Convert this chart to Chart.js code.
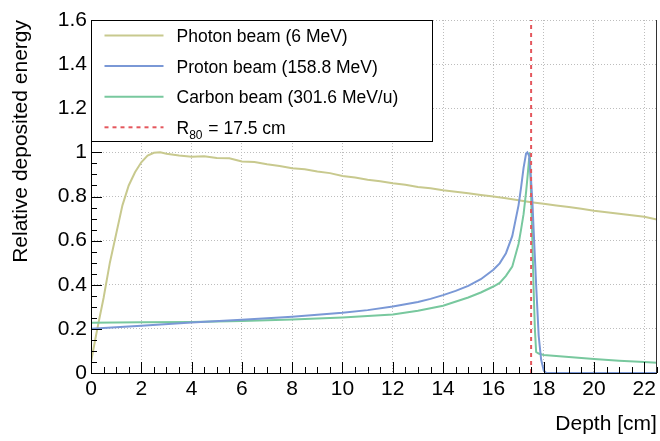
<!DOCTYPE html>
<html>
<head>
<meta charset="utf-8">
<script src="https://cdn.jsdelivr.net/npm/chart.js@4.4.1/dist/chart.umd.min.js"></script>
<style>
  html, body { margin: 0; padding: 0; background: #fff; }
</style>
</head>
<body>
<canvas id="doseChart" width="660" height="441"></canvas>
<script>
// Depth-dose curves
const photonDepth = [0, 0.25, 0.5, 0.75, 1, 1.25, 1.5, 1.75, 2, 2.25, 2.5, 2.75, 3, 3.5, 4, 4.5, 5, 5.5, 6, 6.5, 7, 7.5, 8, 8.5, 9, 9.5, 10, 10.5, 11, 11.5, 12, 12.5, 13, 13.5, 14, 14.5, 15, 15.5, 16, 16.5, 17, 17.5, 18, 18.5, 19, 19.5, 20, 20.5, 21, 21.5, 22, 22.5]
const photonDose = [0.05, 0.2, 0.34, 0.5, 0.63, 0.76, 0.85, 0.91, 0.955, 0.985, 0.998, 1.0, 0.994, 0.986, 0.98, 0.982, 0.975, 0.973, 0.959, 0.956, 0.946, 0.938, 0.928, 0.923, 0.913, 0.906, 0.893, 0.886, 0.876, 0.869, 0.86, 0.853, 0.843, 0.837, 0.828, 0.822, 0.815, 0.807, 0.8, 0.792, 0.783, 0.774, 0.767, 0.759, 0.752, 0.744, 0.735, 0.729, 0.722, 0.715, 0.708, 0.696]

const protonDepth = [0, 2, 4, 6, 8, 10, 11, 12, 13, 13.5, 14, 14.5, 15, 15.5, 16, 16.25, 16.5, 16.75, 17, 17.1, 17.2, 17.3, 17.35, 17.42, 17.5, 17.55, 17.6, 17.7, 17.8, 17.9, 18, 18.1, 22.5]
const protonDose = [0.2, 0.214, 0.229, 0.241, 0.255, 0.273, 0.285, 0.301, 0.322, 0.336, 0.353, 0.372, 0.395, 0.425, 0.468, 0.497, 0.543, 0.62, 0.76, 0.84, 0.93, 0.995, 1.0, 0.985, 0.87, 0.78, 0.65, 0.4, 0.17, 0.06, 0.012, 0, 0]

const carbonDepth = [0, 2, 4, 6, 8, 10, 12, 13, 14, 15, 15.5, 16, 16.25, 16.5, 16.75, 17, 17.1, 17.2, 17.3, 17.35, 17.42, 17.45, 17.5, 17.55, 17.6, 17.65, 17.7, 17.8, 18, 19, 20, 21, 22, 22.5]
const carbonDose = [0.228, 0.23, 0.231, 0.236, 0.242, 0.252, 0.265, 0.282, 0.305, 0.342, 0.365, 0.392, 0.408, 0.44, 0.482, 0.585, 0.65, 0.72, 0.82, 0.88, 0.97, 1.0, 0.8, 0.6, 0.38, 0.2, 0.095, 0.088, 0.082, 0.072, 0.063, 0.056, 0.05, 0.047]

const r80 = 17.5
const xTicks = [0, 2, 4, 6, 8, 10, 12, 14, 16, 18, 20, 22]
const yTicks = [0, 0.2, 0.4, 0.6, 0.8, 1, 1.2, 1.4, 1.6]
const xMax = 22.5
const yMax = 1.6

const FONT = "'Liberation Sans', Arial, Helvetica, sans-serif"

function toPoints(xs, ys) {
  return xs.map((x, i) => ({ x: x, y: ys[i] }))
}

// frame + ROOT style inward ticks (4 minor divisions per major)
const framePlugin = {
  id: "framePlugin",
  afterDraw(chart) {
    const c = chart.ctx
    const a = chart.chartArea
    const left = Math.round(a.left)
    const top = Math.round(a.top)
    const bottom = Math.round(a.bottom)
    const right = Math.round(a.right)
    c.save()
    c.fillStyle = "#000000"
    c.fillRect(left, top, 1, bottom - top + 1)
    c.fillRect(left, bottom, right - left, 1)
    for (let i = 0; i <= 45; i++) {
      const px = Math.round(chart.scales.x.getPixelForValue(i * 0.5))
      const len = i % 4 === 0 ? 11 : 6
      c.fillRect(px, bottom - len, 1, len)
    }
    for (let i = 0; i <= 32; i++) {
      const py = Math.round(chart.scales.y.getPixelForValue(i * 0.05))
      const len = i % 4 === 0 ? 11 : 6
      c.fillRect(left, py, len, 1)
    }
    c.fillStyle = "#333333"
    c.fillRect(right - 1, top, 1, bottom - top)
    c.restore()
  },
}

// legend box drawn inside the plot, top left corner
const legendPlugin = {
  id: "legendPlugin",
  afterDraw(chart) {
    const c = chart.ctx
    const a = chart.chartArea
    const boxLeft = Math.round(a.left) + 0.5
    const boxTop = Math.round(a.top) + 0.5
    const boxW = 341
    const boxH = 121
    c.save()
    c.setLineDash([])
    c.fillStyle = "#fff"
    c.fillRect(boxLeft, boxTop, boxW, boxH)
    c.strokeStyle = "#000"
    c.lineWidth = 1
    c.strokeRect(boxLeft, boxTop, boxW, boxH)

    chart.data.datasets.forEach((ds, i) => {
      const rowY = boxTop + 15 + i * 30.6
      c.beginPath()
      c.strokeStyle = ds.borderColor
      c.lineWidth = ds.borderWidth
      c.setLineDash(ds.borderDash || [])
      c.moveTo(boxLeft + 13, rowY)
      c.lineTo(boxLeft + 72, rowY)
      c.stroke()
      c.setLineDash([])

      c.fillStyle = "#000"
      c.textBaseline = "alphabetic"
      c.textAlign = "left"
      const baseY = rowY + 6.5
      let tx = boxLeft + 85
      const parts = ds.legendParts || [ds.label]
      parts.forEach((p, k) => {
        const sub = ds.legendParts && k === 1
        c.font = (sub ? "12px " : "17.5px ") + FONT
        c.fillText(p, tx, sub ? baseY + 5 : baseY)
        tx += c.measureText(p).width + (sub ? 1 : 0)
      })
    })
    c.restore()
  },
}

const doseChart = new Chart(document.getElementById("doseChart"), {
  type: "line",
  data: {
    datasets: [
      {
        label: "Photon beam (6 MeV)",
        data: toPoints(photonDepth, photonDose),
        borderColor: "#c8c98e",
        borderWidth: 2,
        order: 3,
      },
      {
        label: "Proton beam (158.8 MeV)",
        data: toPoints(protonDepth, protonDose),
        borderColor: "#7a98d6",
        borderWidth: 2,
        order: 1,
      },
      {
        label: "Carbon beam (301.6 MeV/u)",
        data: toPoints(carbonDepth, carbonDose),
        borderColor: "#78c89e",
        borderWidth: 2,
        order: 2,
      },
      {
        label: "R80 = 17.5 cm",
        legendParts: ["R", "80", " = 17.5 cm"],
        data: [{ x: r80, y: 0 }, { x: r80, y: yMax }],
        borderColor: "#e4575d",
        borderWidth: 2,
        borderDash: [4, 4],
        order: 0,
      },
    ],
  },
  options: {
    responsive: false,
    animation: false,
    events: [],
    elements: {
      point: { radius: 0 },
      line: { tension: 0, fill: false },
    },
    layout: { padding: { top: 20, right: 2, left: 0, bottom: 0 } },
    plugins: {
      legend: { display: false },
      tooltip: { enabled: false },
    },
    scales: {
      x: {
        type: "linear",
        min: 0,
        max: xMax,
        afterBuildTicks: (scale) => {
          scale.ticks = xTicks.map((v) => ({ value: v }))
        },
        afterFit: (scale) => {
          scale.height = 68
        },
        ticks: {
          maxRotation: 0,
          autoSkip: false,
          padding: 4,
          color: "#000",
          font: { family: FONT, size: 21 },
          callback: (v) => String(v),
        },
        grid: { color: "#bdbdbd", lineWidth: 1, drawTicks: false },
        border: { display: false, dash: [1, 2] },
        title: {
          display: true,
          text: "Depth [cm]",
          align: "end",
          color: "#000",
          font: { family: FONT, size: 21, lineHeight: 1.2 },
          padding: { top: 0, bottom: 4.5 },
        },
      },
      y: {
        type: "linear",
        min: 0,
        max: yMax,
        afterBuildTicks: (scale) => {
          scale.ticks = yTicks.map((v) => ({ value: v }))
        },
        afterFit: (scale) => {
          scale.width = 91
        },
        ticks: {
          padding: 4,
          autoSkip: false,
          color: "#000",
          font: { family: FONT, size: 21 },
          callback: (v) => String(Number(v.toFixed(1))),
        },
        grid: { color: "#bdbdbd", lineWidth: 1, drawTicks: false },
        border: { display: false, dash: [1, 2] },
        title: {
          display: true,
          text: "Relative deposited energy",
          align: "end",
          color: "#000",
          font: { family: FONT, size: 21, lineHeight: 1.2 },
          padding: { top: 9, bottom: 0 },
        },
      },
    },
  },
  plugins: [framePlugin, legendPlugin],
})
</script>
</body>
</html>
